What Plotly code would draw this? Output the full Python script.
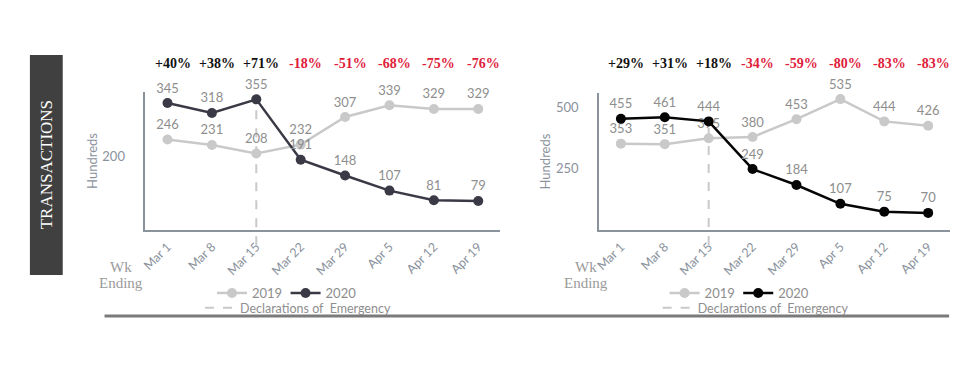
import plotly.graph_objects as go

weeks = ["Mar 1", "Mar 8", "Mar 15", "Mar 22", "Mar 29", "Apr 5", "Apr 12", "Apr 19"]
left_2019 = [246, 231, 208, 232, 307, 339, 329, 329]
left_2020 = [345, 318, 355, 191, 148, 107, 81, 79]
right_2019 = [353, 351, 375, 380, 453, 535, 444, 426]
right_2020 = [455, 461, 444, 249, 184, 107, 75, 70]
left_pct = ["+40%", "+38%", "+71%", "-18%", "-51%", "-68%", "-75%", "-76%"]
right_pct = ["+29%", "+31%", "+18%", "-34%", "-59%", "-80%", "-83%", "-83%"]
emergency_week = "Mar 15"
left_yticks = [200]
right_yticks = [250, 500]
left_yrange = [0, 375]
right_yrange = [0, 560]

C2019 = "#c9c9c9"
C2020_L = "#3a3946"
C2020_R = "#050505"
LABEL = "#8e8e8e"
AXIS = "#8a929c"
SANS = "Lato"
SERIF = "Liberation Serif"

# page has an 8px body margin; figure sized to fill the window exactly
OFF = 8
W, H = 980 - 2 * OFF, 371 - 2 * OFF


def px(x):
    return (x - OFF) / W


def py(y):
    return (OFF + H - y) / H


fig = go.Figure()


def add_series(xa, ya, y19, y20, c20, leg19, leg20):
    for name, ys, col, lg in (("2019", y19, C2019, leg19), ("2020", y20, c20, leg20)):
        fig.add_trace(go.Scatter(
            x=weeks, y=ys, name=name, xaxis=xa, yaxis=ya,
            mode="lines+markers+text", text=[str(v) for v in ys],
            textposition="top center",
            textfont=dict(family=SANS, size=13, color=LABEL),
            line=dict(color=col, width=2.5), marker=dict(color=col, size=10),
            cliponaxis=False, legend=lg, hoverinfo="skip"))


add_series("x", "y", left_2019, left_2020, C2020_L, "legend", "legend5")
add_series("x2", "y2", right_2019, right_2020, C2020_R, "legend3", "legend6")

for xa, ya, lg in (("x", "y", "legend2"), ("x2", "y2", "legend4")):
    fig.add_trace(go.Scatter(
        x=[None], y=[None], xaxis=xa, yaxis=ya, mode="lines",
        name="Declarations of  Emergency",
        line=dict(color=C2019, width=2, dash="dash"), legend=lg))

axis_common = dict(showgrid=False, zeroline=False, showline=True, linecolor=AXIS, linewidth=1.5)
ncat = len(weeks)
xcommon = dict(range=[-0.5, ncat - 0.5], tickangle=-45, tickfont=dict(size=12.5, color=AXIS),
               ticks="", ticklabelstandoff=3, **axis_common)
ycommon = dict(ticks="outside", ticklen=16, tickcolor="rgba(0,0,0,0)",
               tickfont=dict(size=13, color=AXIS),
               title=dict(text="Hundreds", font=dict(size=13, color=AXIS), standoff=2), **axis_common)
fig.update_layout(
    width=W, height=H, margin=dict(l=0, r=0, t=0, b=0),
    paper_bgcolor="white", plot_bgcolor="white",
    font=dict(family=SANS, color=AXIS),
    xaxis=dict(domain=[px(141), px(498)], anchor="y", **xcommon),
    yaxis=dict(domain=[py(230), py(92)], anchor="x", range=left_yrange, tickvals=left_yticks, **ycommon),
    xaxis2=dict(domain=[px(597), px(950)], anchor="y2", **xcommon),
    yaxis2=dict(domain=[py(230), py(93)], anchor="x2", range=right_yrange, tickvals=right_yticks, **ycommon),
    showlegend=True,
)

leg_font = dict(family=SANS, size=13, color=LABEL)
leg_font2 = dict(family=SANS, size=12.5, color=LABEL)
legcommon = dict(orientation="h", xanchor="left", yanchor="middle", bgcolor="rgba(0,0,0,0)", itemwidth=30)
fig.update_layout(
    legend=dict(x=px(208), y=py(293), font=leg_font, **legcommon),
    legend5=dict(x=px(282), y=py(293), font=leg_font, **legcommon),
    legend2=dict(x=px(196), y=py(308), font=leg_font2, **legcommon),
    legend3=dict(x=px(663), y=py(293), font=leg_font, **legcommon),
    legend6=dict(x=px(737), y=py(293), font=leg_font, **legcommon),
    legend4=dict(x=px(656), y=py(308), font=leg_font2, **legcommon),
)

# percent change annotations
for xa, pcts in (("x", left_pct), ("x2", right_pct)):
    for w, p in zip(weeks, pcts):
        fig.add_annotation(x=w, xref=xa, y=py(63), yref="paper", text="<b>%s</b>" % p,
                           showarrow=False, xshift=5, xanchor="center", yanchor="middle",
                           font=dict(family=SERIF, size=14,
                                     color="#111111" if p.startswith("+") else "#e0203a"))

# declarations of emergency dashed lines
ei = weeks.index(emergency_week)
for xa, ya, y20, rng in (("x", "y", left_2020, left_yrange), ("x2", "y2", right_2020, right_yrange)):
    fig.add_shape(type="line", xref=xa + " domain", yref=ya + " domain",
                  x0=(ei + 0.5) / ncat, x1=(ei + 0.5) / ncat,
                  y0=-0.11, y1=(y20[ei] - 10) / rng[1],
                  line=dict(color=C2019, width=2, dash="dash"), layer="below")

# Wk Ending labels
for cx in (117, 584):
    fig.add_annotation(x=px(cx), y=py(267), xref="paper", yref="paper", text="Wk",
                       showarrow=False, xanchor="center", yanchor="middle",
                       font=dict(family=SERIF, size=15, color="#9a9a9a"))
    fig.add_annotation(x=px(cx), y=py(283), xref="paper", yref="paper", text="Ending",
                       showarrow=False, xanchor="center", yanchor="middle",
                       font=dict(family=SERIF, size=15, color="#9a9a9a"))

# TRANSACTIONS box
fig.add_shape(type="rect", xref="paper", yref="paper", x0=px(25), x1=px(58),
              y0=py(275), y1=py(55), fillcolor="#404040", line=dict(width=0))
fig.add_annotation(x=px(41.5), y=py(165), xref="paper", yref="paper", text="TRANSACTIONS",
                   textangle=-90, showarrow=False, xanchor="center", yanchor="middle",
                   font=dict(family=SERIF, size=17, color="white"))

# bottom rule
fig.add_shape(type="line", xref="paper", yref="paper", x0=px(100), x1=px(949),
              y0=py(316), y1=py(316), line=dict(color="#7a7a7a", width=3))

fig.write_html("out.html")
